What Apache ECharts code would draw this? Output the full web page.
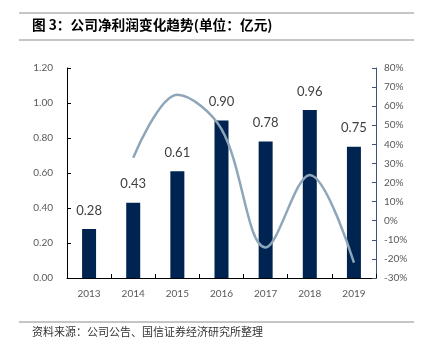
<!DOCTYPE html>
<html><head><meta charset="utf-8">
<script src="https://cdn.jsdelivr.net/npm/echarts@6/dist/echarts.min.js"></script>
<style>html,body{margin:0;padding:0;background:#fff}#c{width:425px;height:346px}</style>
</head><body><div id="c"></div>
<script>
var categories = ['2013','2014','2015','2016','2017','2018','2019'];
var netProfit = [0.28, 0.43, 0.61, 0.90, 0.78, 0.96, 0.75];
var growthPct = [null, 33, 66, 48, -14, 24, -22];
var titleText = '图 3：公司净利润变化趋势(单位：亿元)';
var sourceText = '资料来源：公司公告、国信证券经济研究所整理';

var chart = echarts.init(document.getElementById('c'), null, {renderer:'canvas'});
var numFont = 'Lato, "Open Sans", sans-serif';
chart.setOption({
  animation:false,
  backgroundColor:'#fff',
  grid:{left:67,right:49,top:68,bottom:68},
  graphic:[
    {type:'line',shape:{x1:19,y1:13,x2:414,y2:13},style:{stroke:'#8c8c8c',lineWidth:1}},
    {type:'line',shape:{x1:19,y1:40,x2:414,y2:40},style:{stroke:'#8c8c8c',lineWidth:1}},
    {type:'text',left:32,top:18,style:{text:titleText,font:'bold 13.7px "Noto Sans CJK SC", sans-serif',fill:'#000'}},
    {type:'line',shape:{x1:19,y1:322,x2:414,y2:322},style:{stroke:'#8c8c8c',lineWidth:1}},
    {type:'text',left:32,top:326,style:{text:sourceText,font:'11px "Noto Sans CJK SC", sans-serif',fill:'#333'}}
  ],
  xAxis:{type:'category',data:categories,
    axisLine:{lineStyle:{color:'#000',width:1}},
    axisTick:{show:true,inside:true,length:4,alignWithLabel:false,lineStyle:{color:'#000'}},
    axisLabel:{color:'#595959',fontSize:10,fontFamily:numFont,margin:11}},
  yAxis:[
    {type:'value',min:0,max:1.2,interval:0.2,
      axisLine:{show:true,lineStyle:{color:'#000'}},
      axisTick:{show:true,inside:true,length:4,lineStyle:{color:'#000'}},
      splitLine:{show:false},
      axisLabel:{color:'#595959',fontSize:10,fontFamily:numFont,margin:14,formatter:function(v){return v.toFixed(2);}}},
    {type:'value',min:-30,max:80,interval:10,position:'right',
      axisLine:{show:true,lineStyle:{color:'#3b5578'}},
      axisTick:{show:true,inside:true,length:4,lineStyle:{color:'#3b5578'}},
      splitLine:{show:false},
      axisLabel:{color:'#595959',fontSize:10,fontFamily:numFont,margin:8,formatter:'{value}%'}}
  ],
  series:[
    {type:'bar',data:netProfit,barWidth:14,yAxisIndex:0,
      itemStyle:{color:'#002452'},
      label:{show:true,position:'top',distance:12,color:'#404040',fontSize:13,fontFamily:numFont,
        formatter:function(p){return p.value.toFixed(2);}}},
    {type:'line',data:growthPct,yAxisIndex:1,smooth:0.35,showSymbol:false,
      lineStyle:{color:'#8ea6b9',width:2.5},itemStyle:{color:'#8ea6b9'}}
  ]
});
</script></body></html>
